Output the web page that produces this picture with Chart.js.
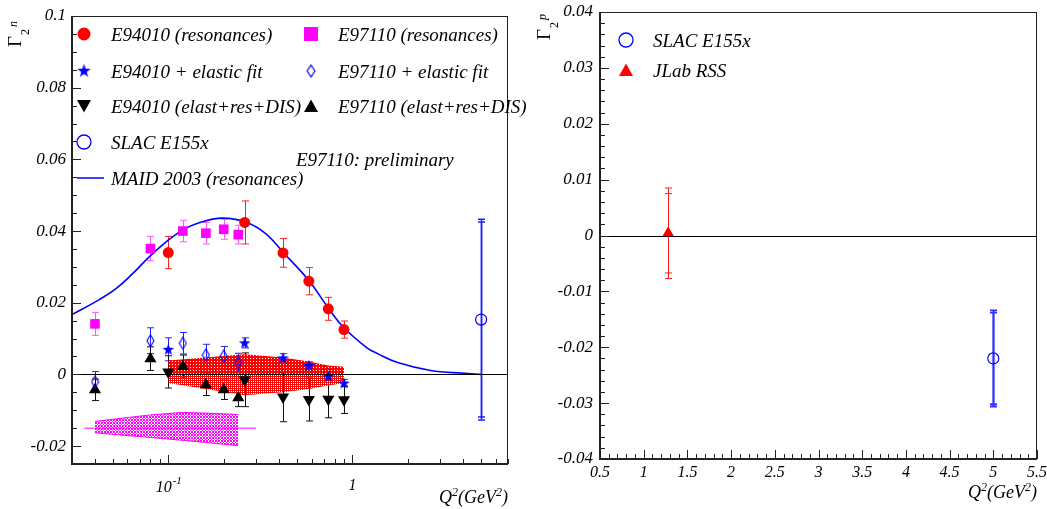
<!DOCTYPE html>
<html>
<head>
<meta charset="utf-8">
<script src="https://cdn.jsdelivr.net/npm/chart.js@4.4.1/dist/chart.umd.min.js"></script>
<style>
  body { margin: 0; background: #fff; width: 1047px; height: 509px; overflow: hidden; position: relative; }
  canvas { position: absolute; top: 0; }
  #gn { left: 0; }
  #gp { left: 530px; }
</style>
</head>
<body>
<canvas id="gn" width="530" height="509"></canvas>
<canvas id="gp" width="517" height="509"></canvas>
<script>
// ---- neutron, Gamma_2^n vs Q^2 ----
const q2E94010 = [0.1, 0.26, 0.42, 0.58, 0.74, 0.9];
const q2E97110 = [0.04, 0.08, 0.12, 0.16, 0.2, 0.24];

const resE94010    = [0.034, 0.0424, 0.0339, 0.026, 0.0183, 0.0125];
const resE94010Err = [0.0045, 0.006, 0.004, 0.0038, 0.0032, 0.0024];
const resE97110    = [0.0141, 0.0351, 0.040, 0.0394, 0.0405, 0.039];
const resE97110Err = [0.0032, 0.0034, 0.003, 0.003, 0.0028, 0.0026];

const elE94010    = [0.0070, 0.0088, 0.0046, 0.0025, -0.0005, -0.0024];
const elE94010Err = [0.0032, 0.0014, 0.0012, 0.001, 0.001, 0.001];
const elE97110    = [-0.0021, 0.0094, 0.0087, 0.0054, 0.0051, 0.0032];
const elE97110Err = [0.0029, 0.0036, 0.003, 0.003, 0.0027, 0.0027];

const totE94010    = [0.0007, -0.0015, -0.0063, -0.007, -0.0069, -0.0071];
const totE94010Err = [0.0045, 0.0075, 0.0069, 0.006, 0.0052, 0.0038];
const totE97110    = [-0.0043, 0.0044, 0.0022, -0.0029, -0.0043, -0.0065];
const totE97110Err = [0.003, 0.0033, 0.0032, 0.003, 0.0027, 0.0025];

// systematic bands
const sysE94010Hi = [0.0039, 0.0056, 0.0047, 0.0036, 0.0025, 0.0021];
const sysE94010Lo = [-0.0024, -0.0058, -0.005, -0.0041, -0.0031, -0.0024];
const sysE97110Hi = [-0.0131, -0.0113, -0.0106, -0.0108, -0.011, -0.0112];
const sysE97110Lo = [-0.0163, -0.0176, -0.0184, -0.019, -0.0195, -0.0199];
const sysE97110Ref  = -0.015;
const sysE97110RefX = [0.035, 0.3];

const slacNQ2 = [5];
const slacN   = [0.0153];
const slacNStat = [0.0272];
const slacNTot  = [0.028];

// MAID 2003 resonance curve
const maidQ2 = [0.03, 0.042, 0.052, 0.064, 0.0785, 0.097, 0.119, 0.147, 0.196, 0.263, 0.338,
                0.42, 0.58, 0.74, 0.9, 1.2, 1.37, 1.76, 2.66, 4.04, 5];
const maidG2 = [0.0167, 0.0208, 0.0239, 0.0281, 0.0327, 0.0369, 0.0402, 0.0423, 0.0436, 0.0425, 0.0393,
                0.0341, 0.0262, 0.0185, 0.013, 0.0074, 0.0058, 0.0033, 0.0011, 0.0003, 0.0];

// ---- proton, Gamma_2^p ----
const rssQ2 = [1.28];
const rssG2 = [0.0004];
const rssStat = [0.0071];
const rssTot  = [0.0081];
const slacPQ2 = [5];
const slacP   = [-0.022];
const slacPStat = [0.0082];
const slacPTot  = [0.0086];

// axis ticks
const yTicksN = [-0.02, 0, 0.02, 0.04, 0.06, 0.08, 0.1];
const xTicksN = [0.1, 1];
const yTicksP = [-0.04, -0.03, -0.02, -0.01, 0, 0.01, 0.02, 0.03, 0.04];
const xTicksP = [0.5, 1, 1.5, 2, 2.5, 3, 3.5, 4, 4.5, 5, 5.5];

const legendN = ['E94010 (resonances)', 'E97110 (resonances)',
                 'E94010 + elastic fit', 'E97110 + elastic fit',
                 'E94010 (elast+res+DIS)', 'E97110 (elast+res+DIS)',
                 'SLAC E155x', 'MAID 2003 (resonances)'];
const legendP = ['SLAC E155x', 'JLab RSS'];

const RED = '#ff0000', MAG = '#ff00ff', BLUE = '#0000ff';
const SERIF = "'Liberation Serif', 'DejaVu Serif', serif";

Chart.defaults.font.family = SERIF;
Chart.defaults.font.style = 'italic';
Chart.defaults.color = '#000';

const pts = (xs, ys) => xs.map((x, i) => ({ x, y: ys[i] }));

// little bitmaps for markers / fills
function tile(w, h, color, holes) {
  const c = document.createElement('canvas');
  c.width = w; c.height = h;
  const g = c.getContext('2d');
  g.fillStyle = color;
  g.fillRect(0, 0, w, h);
  holes.forEach(([i, j]) => g.clearRect(i, j, 1, 1));
  return g.createPattern(c, 'repeat');
}
const redDense = tile(3, 3, RED, [[1, 1]]);
const redHatch = tile(2, 2, RED, [[1, 1]]);
const magHatch = tile(3, 3, MAG, [[1, 0], [0, 1], [2, 1], [1, 2]]);

const starImg = (() => {
  const c = document.createElement('canvas');
  c.width = c.height = 13;
  const g = c.getContext('2d');
  g.fillStyle = BLUE;
  g.beginPath();
  for (let i = 0; i < 10; i++) {
    const r = i % 2 ? 2.5 : 6.2;
    const a = -Math.PI / 2 + i * Math.PI / 5;
    g.lineTo(6.5 + r * Math.cos(a), 7 + r * Math.sin(a));
  }
  g.closePath();
  g.fill();
  return c;
})();

const diamondImg = (() => {
  const c = document.createElement('canvas');
  c.width = 9; c.height = 14;
  const g = c.getContext('2d');
  g.strokeStyle = BLUE;
  g.lineWidth = 1.1;
  g.beginPath();
  g.moveTo(4.5, 1); g.lineTo(8, 7); g.lineTo(4.5, 13); g.lineTo(1, 7);
  g.closePath();
  g.stroke();
  return c;
})();

// marker for the legends
function drawMarker(ctx, kind, x, y) {
  ctx.save();
  ctx.beginPath();
  if (kind === 'circle') {
    ctx.fillStyle = RED; ctx.arc(x, y, 6.5, 0, 2 * Math.PI); ctx.fill();
  } else if (kind === 'square') {
    ctx.fillStyle = MAG; ctx.fillRect(x - 7, y - 7, 14, 14);
  } else if (kind === 'star') {
    ctx.drawImage(starImg, x - 7.5, y - 8, 15, 15);
  } else if (kind === 'diamond') {
    ctx.drawImage(diamondImg, x - 5, y - 7, 10, 14);
  } else if (kind === 'dtri' || kind === 'tri' || kind === 'rtri') {
    const s = kind === 'dtri' ? -1 : 1;
    ctx.fillStyle = kind === 'rtri' ? RED : '#000';
    ctx.moveTo(x - 7, y + 6 * s); ctx.lineTo(x + 7, y + 6 * s); ctx.lineTo(x, y - 6.5 * s);
    ctx.closePath(); ctx.fill();
  } else if (kind === 'ocircle') {
    ctx.strokeStyle = BLUE; ctx.lineWidth = 1.3; ctx.arc(x, y, 7, 0, 2 * Math.PI); ctx.stroke();
  } else if (kind === 'line') {
    ctx.strokeStyle = BLUE; ctx.lineWidth = 1.5; ctx.moveTo(x - 7, y); ctx.lineTo(x + 20, y); ctx.stroke();
  }
  ctx.restore();
}

// vertical error bars with caps, inner (stat) and outer (total)
const errorBars = {
  id: 'errorBars',
  beforeDatasetsDraw(chart) {
    const { ctx, scales: { x, y } } = chart;
    chart.data.datasets.forEach(ds => {
      if (!ds.errs) return;
      ctx.save();
      ctx.strokeStyle = ds.errColor || ds.borderColor;
      ctx.lineWidth = ds.errWidth || 1;
      ds.data.forEach((p, i) => {
        const px = Math.round(x.getPixelForValue(p.x)) + 0.5;
        [ds.errs, ds.errs2].forEach(e => {
          if (!e) return;
          const t = y.getPixelForValue(p.y + e[i]);
          const b = y.getPixelForValue(p.y - e[i]);
          ctx.beginPath();
          ctx.moveTo(px, t); ctx.lineTo(px, b);
          ctx.moveTo(px - 3.5, t); ctx.lineTo(px + 3.5, t);
          ctx.moveTo(px - 3.5, b); ctx.lineTo(px + 3.5, b);
          ctx.stroke();
        });
      });
      ctx.restore();
    });
  }
};

// keep the plot area where the layout padding puts it
function noScalePadding(s) {
  s.paddingLeft = s.paddingRight = s.paddingTop = s.paddingBottom = 0;
}

// draws frame, inward ticks, zero line, titles and legend
function frame(spec) {
  return {
    id: 'frame',
    afterDatasetsDraw(chart) {
      const { ctx, chartArea: a, scales: { x, y } } = chart;
      ctx.save();
      ctx.strokeStyle = '#000';
      ctx.lineWidth = 1;
      const y0 = Math.round(y.getPixelForValue(0)) + 0.5;
      ctx.beginPath(); ctx.moveTo(a.left, y0); ctx.lineTo(a.right, y0); ctx.stroke();

      ctx.strokeStyle = '#222';
      ctx.strokeRect(a.left, a.top + 0.5, a.right - a.left - 0.5, a.bottom - a.top);
      ctx.lineWidth = 2;
      ctx.beginPath();
      ctx.moveTo(a.left, a.top); ctx.lineTo(a.left, a.bottom); ctx.lineTo(a.right, a.bottom);
      ctx.stroke();

      ctx.lineWidth = 1;
      ctx.beginPath();
      spec.yMinor.forEach(t => {
        const py = Math.round(y.getPixelForValue(t.v)) + 0.5;
        ctx.moveTo(a.left, py); ctx.lineTo(a.left + (t.major ? 9 : 5), py);
      });
      spec.xMinor.forEach(t => {
        const px = Math.round(x.getPixelForValue(t.v)) + 0.5;
        ctx.moveTo(px, a.bottom); ctx.lineTo(px, a.bottom - (t.major ? 9 : 5));
      });
      ctx.stroke();
      ctx.restore();
    },
    afterDraw(chart) {
      const { ctx, chartArea: a } = chart;
      ctx.save();
      ctx.fillStyle = '#000';
      ctx.textBaseline = 'alphabetic';

      // axis title, rotated
      const T = spec.title;
      ctx.save();
      ctx.translate(T.x, T.y);
      ctx.rotate(-Math.PI / 2);
      ctx.font = '19px ' + SERIF;
      ctx.fillText('\u0393', 0, 0);
      const gw = ctx.measureText('\u0393').width;
      ctx.font = '12px ' + SERIF;
      ctx.fillText('2', gw + 1, 8);
      ctx.font = 'italic 12px ' + SERIF;
      ctx.fillText(T.sup, gw + 9, -4);
      ctx.restore();

      // Q^2 (GeV^2) on the x axis
      const parts = [['Q', 18, 0], ['2', 12, -7], ['(GeV', 18, 0], ['2', 12, -7], [')', 18, 0]];
      let w = 0;
      parts.forEach(p => { ctx.font = 'italic ' + p[1] + 'px ' + SERIF; w += ctx.measureText(p[0]).width; });
      let cx = a.right - w;
      parts.forEach(p => {
        ctx.font = 'italic ' + p[1] + 'px ' + SERIF;
        ctx.fillText(p[0], cx, spec.qY + p[2]);
        cx += ctx.measureText(p[0]).width;
      });

      // legend
      ctx.font = 'italic 19px ' + SERIF;
      spec.legend.forEach(it => {
        drawMarker(ctx, it.kind, it.x, it.y);
        ctx.fillText(it.label, it.x + 27, it.y + 6.5);
      });
      if (spec.extra) spec.extra(ctx, chart);
      ctx.restore();
    }
  };
}

// tick mark lists
const yMinorN = [];
for (let k = -5; k <= 20; k++) yMinorN.push({ v: k * 0.005, major: k % 4 === 0 });
const xMinorN = [];
[0.01, 0.1, 1].forEach(d => {
  for (let m = 1; m <= 9; m++) {
    const v = m * d;
    if (v >= 0.03 && v <= 7.001) xMinorN.push({ v, major: m === 1 });
  }
});
const yMinorP = [];
for (let k = -20; k <= 20; k++) yMinorP.push({ v: k * 0.002, major: k % 5 === 0 });
const xMinorP = [];
for (let k = 5; k <= 55; k++) xMinorP.push({ v: k / 10, major: k % 5 === 0 });

const fmt = v => String(+v.toFixed(3));

// ---------------- neutron panel ----------------
const colX = [84, 311], rowY = [34, 71, 106, 142, 178];
const kindsN = ['circle', 'square', 'star', 'diamond', 'dtri', 'tri', 'ocircle', 'line'];

new Chart(document.getElementById('gn'), {
  type: 'line',
  data: {
    datasets: [
      { data: pts(q2E94010, resE94010), showLine: false, pointStyle: 'circle', pointRadius: 5.5,
        backgroundColor: RED, borderColor: RED, pointBorderWidth: 0, errs: resE94010Err, errColor: '#ff2020' },
      { data: pts(q2E97110, resE97110), showLine: false, pointStyle: 'rect', pointRadius: 6.8,
        backgroundColor: MAG, borderColor: MAG, pointBorderWidth: 0, errs: resE97110Err, errColor: '#ff55ff' },
      { data: pts(q2E94010, elE94010), showLine: false, pointStyle: starImg,
        borderColor: BLUE, errs: elE94010Err, errColor: '#2020ff' },
      { data: pts(q2E97110, elE97110), showLine: false, pointStyle: diamondImg,
        borderColor: BLUE, errs: elE97110Err, errColor: '#2020ff' },
      { data: pts(q2E94010, totE94010), showLine: false, pointStyle: 'triangle', pointRadius: 7, rotation: 180,
        backgroundColor: '#000', borderColor: '#000', pointBorderWidth: 0, errs: totE94010Err, errColor: '#111' },
      { data: pts(q2E97110, totE97110), showLine: false, pointStyle: 'triangle', pointRadius: 7,
        backgroundColor: '#000', borderColor: '#000', pointBorderWidth: 0, errs: totE97110Err, errColor: '#111' },
      { data: pts(slacNQ2, slacN), showLine: false, pointStyle: 'circle', pointRadius: 5.5,
        backgroundColor: 'rgba(0,0,0,0)', borderColor: BLUE, pointBorderWidth: 1.2,
        errs: slacNStat, errs2: slacNTot, errColor: '#2020ff', errWidth: 1.5 },
      { data: pts(maidQ2, maidG2), borderColor: BLUE, borderWidth: 1.6, pointRadius: 0,
        tension: 0.4, fill: false },
      { data: pts(sysE97110RefX, sysE97110RefX.map(() => sysE97110Ref)), borderColor: MAG, borderWidth: 1,
        pointRadius: 0, fill: false },
      { data: pts(q2E94010, sysE94010Hi), borderColor: 'rgba(0,0,0,0)', pointRadius: 0,
        backgroundColor: redDense, fill: { value: 0 } },
      { data: pts(q2E94010, sysE94010Lo), borderColor: 'rgba(0,0,0,0)', pointRadius: 0,
        backgroundColor: redHatch, fill: { value: 0 } },
      { data: pts(q2E97110, sysE97110Hi), borderColor: MAG, borderWidth: 1, pointRadius: 0,
        backgroundColor: magHatch, fill: '+1' },
      { data: pts(q2E97110, sysE97110Lo), borderColor: MAG, borderWidth: 1, pointRadius: 0, fill: false }
    ]
  },
  options: {
    responsive: false,
    animation: false,
    layout: { padding: { left: 12, right: 22, top: 16, bottom: 0 } },
    plugins: { legend: { display: false }, tooltip: { enabled: false } },
    scales: {
      x: {
        type: 'logarithmic', min: 0.03, max: 7,
        grid: { display: false }, border: { display: false },
        ticks: { display: false },
        afterBuildTicks: s => { s.ticks = xTicksN.map(v => ({ value: v })); },
        afterFit: s => { s.height = 45; noScalePadding(s); }
      },
      y: {
        min: -0.025, max: 0.1,
        grid: { display: false, drawTicks: false }, border: { display: false },
        ticks: { padding: 6, font: { size: 17 }, callback: fmt },
        afterBuildTicks: s => { s.ticks = yTicksN.map(v => ({ value: v })); },
        afterFit: s => { s.width = 60; noScalePadding(s); }
      }
    }
  },
  plugins: [errorBars, frame({
    title: { x: 21, y: 47, sup: 'n' },
    qY: 503,
    yMinor: yMinorN, xMinor: xMinorN,
    legend: legendN.map((label, i) => ({ label, kind: kindsN[i], x: colX[i < 6 ? i % 2 : 0], y: rowY[i < 6 ? Math.floor(i / 2) : i - 3] })),
    extra(ctx, chart) {
      const x = chart.scales.x;
      ctx.font = 'italic 19px ' + SERIF;
      ctx.fillText('E97110: preliminary', 296, 166);
      // log-axis labels 10^-1 and 1
      const p1 = x.getPixelForValue(xTicksN[0]);
      ctx.font = 'italic 16px ' + SERIF;
      const w10 = ctx.measureText('10').width;
      ctx.font = 'italic 11px ' + SERIF;
      const wm = ctx.measureText('-1').width;
      ctx.font = 'italic 16px ' + SERIF;
      ctx.fillText('10', p1 - (w10 + wm) / 2, 492);
      ctx.font = 'italic 11px ' + SERIF;
      ctx.fillText('-1', p1 - (w10 + wm) / 2 + w10 + 1, 484);
      ctx.font = 'italic 16px ' + SERIF;
      ctx.textAlign = 'center';
      ctx.fillText('1', x.getPixelForValue(xTicksN[1]), 490);
      ctx.textAlign = 'left';
    }
  })]
});

// ---------------- proton panel ----------------
new Chart(document.getElementById('gp'), {
  type: 'line',
  data: {
    datasets: [
      { data: pts(rssQ2, rssG2), showLine: false, pointStyle: 'triangle', pointRadius: 7,
        backgroundColor: RED, borderColor: RED, pointBorderWidth: 0,
        errs: rssStat, errs2: rssTot, errColor: '#ff2020' },
      { data: pts(slacPQ2, slacP), showLine: false, pointStyle: 'circle', pointRadius: 5.5,
        backgroundColor: 'rgba(0,0,0,0)', borderColor: BLUE, pointBorderWidth: 1.2,
        errs: slacPStat, errs2: slacPTot, errColor: '#3030ff', errWidth: 1.8 }
    ]
  },
  options: {
    responsive: false,
    animation: false,
    layout: { padding: { left: 10, right: 10, top: 12, bottom: 0 } },
    plugins: { legend: { display: false }, tooltip: { enabled: false } },
    scales: {
      x: {
        type: 'linear', min: 0.5, max: 5.5,
        grid: { display: false, drawTicks: false }, border: { display: false },
        ticks: { padding: 4, font: { size: 16 }, autoSkip: false, maxRotation: 0, callback: fmt },
        afterBuildTicks: s => { s.ticks = xTicksP.map(v => ({ value: v })); },
        afterFit: s => { s.height = 50; noScalePadding(s); }
      },
      y: {
        min: -0.04, max: 0.04,
        grid: { display: false, drawTicks: false }, border: { display: false },
        ticks: { padding: 7, font: { size: 17 }, callback: fmt },
        afterBuildTicks: s => { s.ticks = yTicksP.map(v => ({ value: v })); },
        afterFit: s => { s.width = 60; noScalePadding(s); }
      }
    }
  },
  plugins: [errorBars, frame({
    title: { x: 20, y: 40, sup: 'p' },
    qY: 498,
    yMinor: yMinorP, xMinor: xMinorP,
    legend: legendP.map((label, i) => ({ label, kind: ['ocircle', 'rtri'][i], x: 96, y: [40, 70][i] }))
  })]
});
</script>
</body>
</html>
